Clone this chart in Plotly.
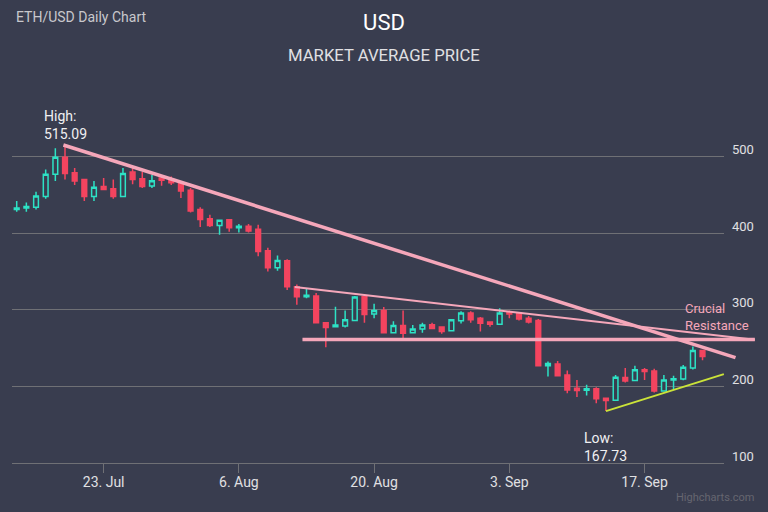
import plotly.graph_objects as go
import pandas as pd

# ---------------- data ----------------
dates = pd.date_range("2018-07-14", periods=72, freq="D")
open_ = [431, 433, 434, 448, 477, 499, 479, 470, 448, 461, 458, 448, 480, 471, 461.6, 472, 470, 466,
         456, 431, 419, 410, 417.6, 407, 409, 405, 377, 355, 364, 330, 317, 318, 283, 278, 279, 286,
         317, 294.5, 299, 270, 279.5, 270, 275, 280.4, 277.5, 272.5, 285.6, 295.7, 289, 284, 281, 297,
         295.7, 289, 286, 227, 229.4, 215, 197.6, 195, 197, 184.5, 182, 211.5, 207.6, 221.6, 220, 194,
         208.5, 209.5, 224, 247]
high = [442, 440, 454, 483, 511, 515.09, 485, 471, 468, 472, 470, 485, 485, 480, 476, 474, 474, 468,
        459, 434, 424, 418, 418.5, 412, 412, 411, 381, 371, 366, 333, 327, 322, 284, 304, 299, 318,
        320, 308, 303.5, 285, 299, 280, 283, 283, 278, 288, 298, 298, 290.5, 285, 302, 299,
        296, 292, 288, 232.5, 233, 220.6, 208.5, 202, 199, 185, 215, 224, 227, 224, 223, 215,
        214, 228, 252, 248]
low = [428, 428, 431, 445, 468, 470, 463, 442, 442, 456, 445, 447, 464, 459, 459, 462, 463, 446,
       427, 408, 408, 398, 402, 401, 401, 370, 350, 351, 326, 306.5, 315, 282, 251, 278, 277, 285,
       283, 289, 269, 269, 263, 269, 270, 275, 268.6, 272, 282, 283, 271.6, 278, 280, 289,
       286, 282, 226, 213, 213, 191, 186, 188, 178, 167.73, 181, 205, 207, 208.5, 192, 193,
       195.5, 208, 222, 234]
close = [433, 435, 448.6, 477, 499, 478, 468, 448, 460, 457, 448, 478, 470, 461, 468.6, 469, 466, 455,
         429, 418, 410, 417, 407, 409, 403, 376, 355, 364.5, 330, 317, 319, 283, 277, 280, 287, 316.6,
         294, 299, 270, 279.5, 269.5, 275, 280, 275.6, 271.6, 287, 295.7, 287, 282.6, 281, 295.7, 294.4,
         288, 284, 227, 230, 214, 195.4, 194.5, 197, 184, 181.5, 212, 207, 221.6, 219.3, 194, 208.5,
         210, 225, 247, 239]

y_ticks = [100, 200, 300, 400, 500, 600]
y_tick_labels = ["100", "200", "300", "400", "500", ""]

# trend lines (date, price)
main_trend_x = ["2018-07-18 20:00", "2018-09-26 10:00"]
main_trend_y = [515.09, 237.6]
desc_trend_x = ["2018-08-11 19:00", "2018-09-28 10:00"]
desc_trend_y = [329.7, 260.8]
resist_x = ["2018-08-12 14:00", "2018-09-28 10:00"]
resist_y = [261.3, 261.3]
support_x = ["2018-09-13 00:00", "2018-09-25 05:00"]
support_y = [167.73, 216.0]

X_RANGE = [pd.Timestamp("2018-07-13 12:19"), pd.Timestamp("2018-09-25 05:21")]
Y_RANGE = [100, 600]

BG = "#393d4f"
UP = "#2de2c5"
DOWN = "#f4445f"
PINK = "#f5a7ba"
GRID = "#6f7075"
TEXT = "#e0e0e3"
FONT = "Roboto"


def xp(d):
    d = pd.Timestamp(d)
    return (d - X_RANGE[0]) / (X_RANGE[1] - X_RANGE[0])


def yp(v):
    return (v - Y_RANGE[0]) / (Y_RANGE[1] - Y_RANGE[0])


fig = go.Figure()
fig.add_trace(go.Candlestick(
    x=dates, open=open_, high=high, low=low, close=close,
    increasing=dict(line=dict(color=UP, width=1.5), fillcolor=BG),
    decreasing=dict(line=dict(color=DOWN, width=1.5), fillcolor=DOWN),
    whiskerwidth=0, showlegend=False, hoverinfo="skip",
))


def add_line(xs, ys, color, width):
    fig.add_shape(type="line", xref="paper", yref="paper",
                  x0=xp(xs[0]), y0=yp(ys[0]), x1=xp(xs[1]), y1=yp(ys[1]),
                  line=dict(color=color, width=width), layer="above")


add_line(main_trend_x, main_trend_y, PINK, 3.5)
add_line(desc_trend_x, desc_trend_y, PINK, 2)
add_line(resist_x, resist_y, PINK, 3.5)
add_line(support_x, support_y, "#cbe339", 2)

hi_idx = high.index(max(high))
lo_idx = low.index(min(low))

annotations = [
    dict(text="ETH/USD Daily Chart", xref="paper", yref="paper", x=2 / 712,
         y=(463 - 17) / 383, xanchor="left", yanchor="middle", showarrow=False,
         font=dict(family=FONT, size=14, color="#c8c8cc")),
    dict(text="MARKET AVERAGE PRICE", xref="paper", yref="paper", x=(384 - 12) / 712,
         y=(463 - 55) / 383, xanchor="center", yanchor="middle", showarrow=False,
         font=dict(family=FONT, size=16.7, color=TEXT)),
    dict(text="High:<br>%.2f" % high[hi_idx], x=dates[hi_idx], y=high[hi_idx], xref="x", yref="y",
         xanchor="left", yanchor="bottom", align="left", xshift=-23, yshift=1, showarrow=False,
         font=dict(family=FONT, size=14, color="#f0f0f2")),
    dict(text="Low:<br>%.2f" % low[lo_idx], x=dates[lo_idx], y=low[lo_idx], xref="x", yref="y",
         xanchor="left", yanchor="top", align="left", xshift=-24, yshift=-17, showarrow=False,
         font=dict(family=FONT, size=14, color="#f0f0f2")),
    dict(text="Crucial<br>Resistance", xref="paper", yref="paper", x=(683 - 12) / 712,
         y=(463 - 317) / 383, xanchor="left", yanchor="middle", align="left", showarrow=False,
         font=dict(family=FONT, size=13, color=PINK)),
    dict(text="Highcharts.com", xref="paper", yref="paper", x=(756 - 12) / 712,
         y=(463 - 498) / 383, xanchor="right", yanchor="middle", showarrow=False,
         font=dict(family=FONT, size=11, color="#666670")),
]

fig.update_layout(
    width=768, height=512,
    paper_bgcolor=BG, plot_bgcolor=BG,
    margin=dict(l=12, r=44, t=80, b=49),
    title=dict(text="USD", x=0.5, xanchor="center", y=1 - 22 / 512, yanchor="middle",
               font=dict(family=FONT, size=22, color="#ffffff")),
    font=dict(family=FONT, color=TEXT),
    annotations=annotations,
    showlegend=False,
    xaxis=dict(
        type="date", range=X_RANGE, rangeslider=dict(visible=False),
        showgrid=False, showline=True, linecolor=GRID, linewidth=1,
        ticks="outside", ticklen=9, tickcolor=GRID, tickwidth=1,
        tick0="2018-07-23", dtick=14 * 86400000, tickformat="%-d. %b",
        tickfont=dict(family=FONT, size=14, color=TEXT), zeroline=False,
        ticklabelstandoff=-3,
    ),
    yaxis=dict(
        range=Y_RANGE, side="right", tickvals=y_ticks, ticktext=y_tick_labels,
        showgrid=True, gridcolor=GRID, gridwidth=1, zeroline=False, showline=False,
        ticks="", ticklabelstandoff=7, ticklabelshift=-7,
        tickfont=dict(family=FONT, size=13, color=TEXT),
    ),
)

fig.write_html(
    "out.html",
    config={"displayModeBar": False},
    post_script="document.body.style.margin='0';document.body.style.background='%s';" % BG,
)
